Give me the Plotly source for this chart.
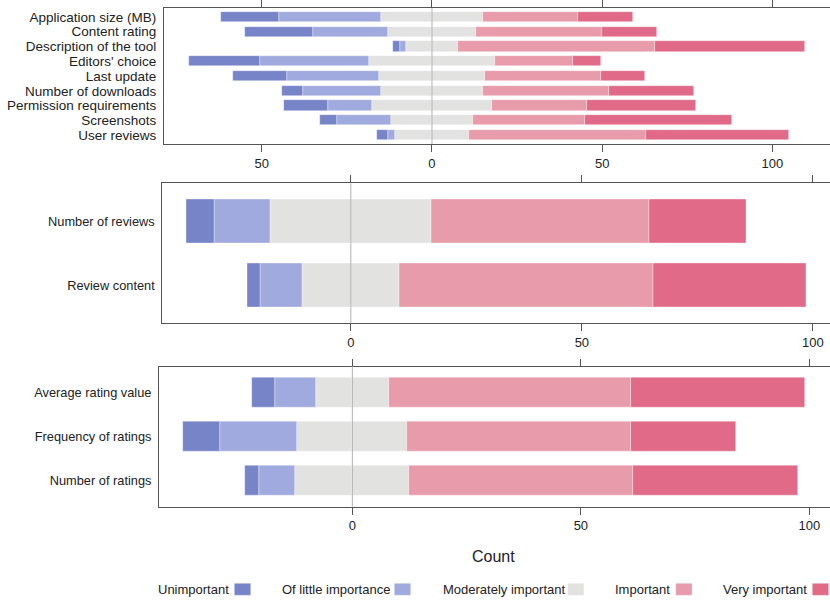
import plotly.graph_objects as go

levels = ["Unimportant", "Of little importance", "Moderately important", "Important", "Very important"]
colors = ["#7784C7", "#A1AADE", "#E2E2E1", "#E89BAB", "#E06A87"]

# Panel 1: app store attributes (counts per level)
items1 = ["Application size (MB)", "Content rating", "Description of the tool", "Editors' choice",
          "Last update", "Number of downloads", "Permission requirements", "Screenshots", "User reviews"]
unimp1 = [17, 20, 2, 21, 16, 6, 13, 5, 3]
little1 = [30, 22, 2, 32, 27, 23, 13, 16, 2]
moder1 = [30, 26, 15, 37, 31, 30, 35, 24, 22]
imp1 = [28, 37, 58, 23, 34, 37, 28, 33, 52]
very1 = [16, 16, 44, 8, 13, 25, 32, 43, 42]

# Panel 2: reviews
items2 = ["Number of reviews", "Review content"]
unimp2 = [6, 3]
little2 = [12, 9]
moder2 = [35, 21]
imp2 = [47, 55]
very2 = [21, 33]

# Panel 3: ratings
items3 = ["Average rating value", "Frequency of ratings", "Number of ratings"]
unimp3 = [5, 8, 3]
little3 = [9, 17, 8]
moder3 = [16, 24, 25]
imp3 = [53, 49, 49]
very3 = [38, 23, 36]

W, H = 830, 602
font_family = "Liberation Sans, Arial, Helvetica, sans-serif"
text_col = "#222222"
axis_col = "#555555"

panels = [
    dict(items=items1, data=[unimp1, little1, moder1, imp1, very1],
         xdom=[164 / W, 1.0], ydom=[1 - 144 / H, 1 - 8 / H], xr=[-78.7, 116.9],
         tickvals=[-50, 0, 50, 100], ticktext=["50", "0", "50", "100"], mirror_y=False, yfs=13.5),
    dict(items=items2, data=[unimp2, little2, moder2, imp2, very2],
         xdom=[162.3 / W, 1.0], ydom=[1 - 323.2 / H, 1 - 183.3 / H], xr=[-40.8, 103.7],
         tickvals=[0, 50, 100], ticktext=["0", "50", "100"], mirror_y=False, yfs=12.8),
    dict(items=items3, data=[unimp3, little3, moder3, imp3, very3],
         xdom=[159 / W, 829.5 / W], ydom=[1 - 506.7 / H, 1 - 366.5 / H], xr=[-42.3, 104.4],
         tickvals=[0, 50, 100], ticktext=["0", "50", "100"], mirror_y=True, yfs=12.8),
]

fig = go.Figure()
shapes = []
for i, p in enumerate(panels):
    sfx = "" if i == 0 else str(i + 1)
    xa, ya = "x" + sfx, "y" + sfx
    u, l, m, im, v = p["data"]
    half = [mm / 2 for mm in m]
    # order for relative stacking: closest to zero first
    series = [
        (2, [-h for h in half]), (2, half),
        (1, [-x for x in l]), (3, im),
        (0, [-x for x in u]), (4, v),
    ]
    for lev, vals in series:
        fig.add_trace(go.Bar(
            y=p["items"], x=vals, orientation="h", xaxis=xa, yaxis=ya,
            marker=dict(color=colors[lev], line=dict(color="rgba(255,255,255,0.6)", width=0.6)),
            width=0.69, name=levels[lev], showlegend=False,
            hovertemplate="%{y}: " + levels[lev] + "<extra></extra>",
        ))
    n = len(p["items"])
    fig.layout["xaxis" + sfx] = dict(
        domain=p["xdom"], anchor=ya, range=p["xr"], tickvals=p["tickvals"], ticktext=p["ticktext"],
        showline=True, linecolor=axis_col, linewidth=1, mirror="ticks", ticks="outside",
        ticklen=7, tickcolor=axis_col, tickwidth=1, showgrid=False, zeroline=False,
        tickfont=dict(size=13, color=text_col, family=font_family), fixedrange=True,
    )
    fig.layout["yaxis" + sfx] = dict(
        domain=p["ydom"], anchor=xa, type="category", categoryorder="array",
        categoryarray=p["items"], range=[n - 1 + 0.6, -0.6],
        tickmode="array", tickvals=p["items"], ticktext=p["items"],
        showline=True, linecolor=axis_col, linewidth=1, mirror=p["mirror_y"], ticks="",
        showgrid=False, zeroline=False, ticklabelstandoff=4,
        tickfont=dict(size=p["yfs"], color=text_col, family=font_family), fixedrange=True,
    )
    shapes.append(dict(type="line", xref=xa, yref=ya + " domain", x0=0, x1=0, y0=0, y1=1,
                       line=dict(color="#b0b0b0", width=1), layer="above"))

# Legend drawn manually: text followed by swatch
legend_pos = [(231, 234.3), (392.3, 394.3), (566.7, 567.5), (671.7, 675.7), (809.3, 812.3)]
annotations = []
for lev, (tx, sx) in enumerate(legend_pos):
    annotations.append(dict(x=tx / W, y=1 - 589.3 / H, xref="paper", yref="paper", text=levels[lev],
                            showarrow=False, xanchor="right", yanchor="middle",
                            font=dict(size=13, color=text_col, family=font_family)))
    shapes.append(dict(type="rect", xref="paper", yref="paper", x0=sx / W, x1=(sx + 16.4) / W,
                       y0=1 - 595.3 / H, y1=1 - 583.3 / H, fillcolor=colors[lev],
                       line=dict(color="rgba(255,255,255,0.6)", width=0.5)))

annotations.append(dict(x=493 / W, y=1 - 556.5 / H, xref="paper", yref="paper", text="Count",
                        showarrow=False, xanchor="center", yanchor="middle",
                        font=dict(size=16, color=text_col, family=font_family)))

fig.update_layout(
    width=W, height=H, margin=dict(l=0, r=0, t=0, b=0),
    barmode="relative", bargap=0, plot_bgcolor="white", paper_bgcolor="white",
    showlegend=False, shapes=shapes, annotations=annotations,
    font=dict(family=font_family, color=text_col),
)

fig.write_html(
    "out.html",
    config={"displayModeBar": False},
    post_script="document.body.style.margin='0';document.body.style.overflow='hidden';",
)
